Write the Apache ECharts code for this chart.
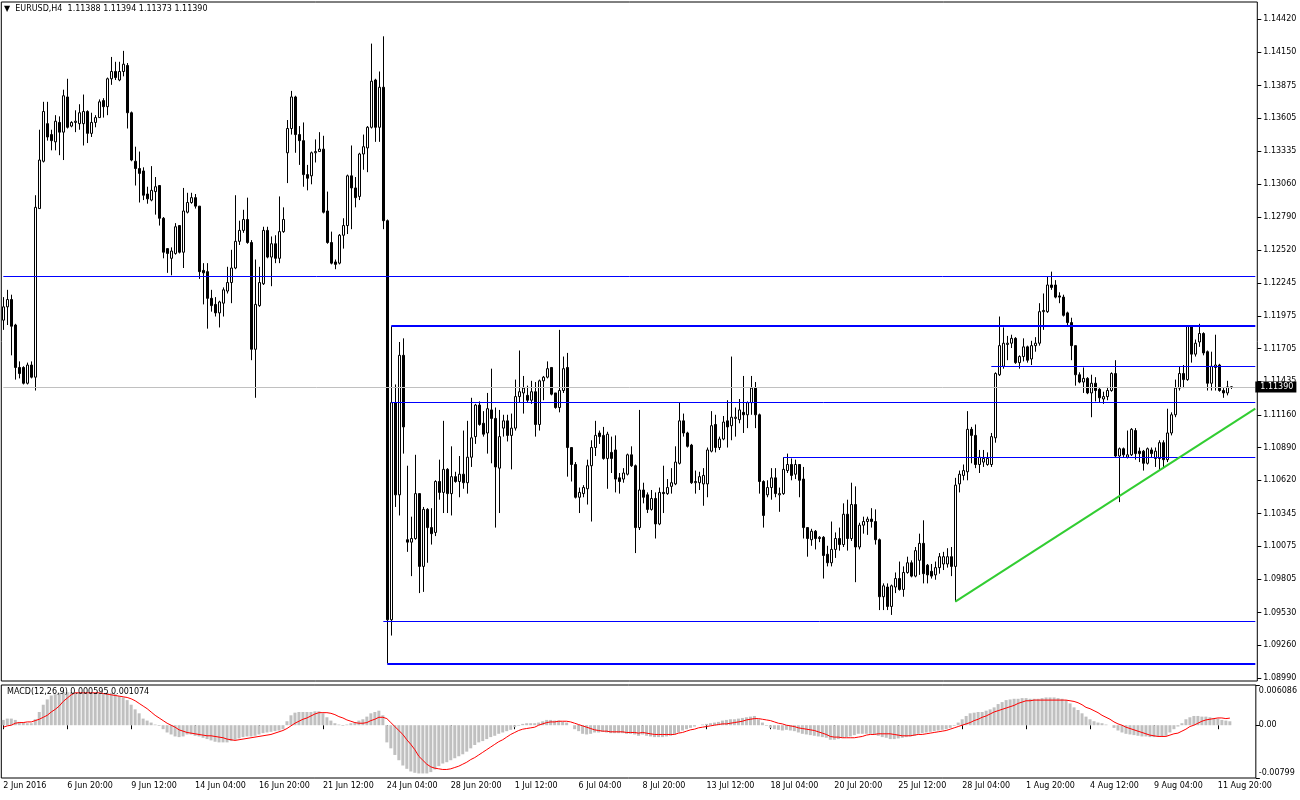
<!DOCTYPE html>
<html><head><meta charset="utf-8">
<script src="https://cdn.jsdelivr.net/npm/echarts@6/dist/echarts.min.js"></script>
<style>html,body{margin:0;padding:0;background:#fff}#c{width:1300px;height:800px}</style>
</head><body><div id="c"></div>
<script>
// ---- data ----
const open = [
1.1194,1.1205,1.1211,1.1190,1.1155,1.1155,1.1142,1.1157,1.1147,1.1286,
1.1325,1.1356,1.1347,1.1341,1.1357,1.1349,1.1378,1.1354,1.1357,1.1356,
1.1356,1.1366,1.1348,1.1357,1.1361,1.1375,1.1370,1.1393,1.1399,1.1392,
1.1399,1.1404,1.1365,1.1325,1.1319,1.1317,1.1298,1.1293,1.1300,1.1305,
1.1278,1.1253,1.1245,1.1249,1.1272,1.1250,1.1283,1.1291,1.1295,1.1288,
1.1235,1.1234,1.1212,1.1207,1.1200,1.1208,1.1218,1.1225,1.1237,1.1259,
1.1268,1.1277,1.1258,1.1170,1.1206,1.1224,1.1268,1.1246,1.1257,1.1245,
1.1267,1.1332,1.1352,1.1378,1.1347,1.1342,1.1314,1.1313,1.1332,1.1333,
1.1335,1.1284,1.1258,1.1242,1.1241,1.1264,1.1272,1.1313,1.1303,1.1296,
1.1331,1.1336,1.1353,1.1392,1.1353,1.1386,1.1276,1.0947,1.1126,1.1050,
1.1165,1.1013,1.1011,1.1014,1.1051,1.0991,1.1038,1.1023,1.1019,1.1061,
1.1052,1.1071,1.1051,1.1065,1.1061,1.1067,1.1060,1.1081,1.1098,1.1124,
1.1109,1.1101,1.1120,1.1113,1.1072,1.1105,1.1111,1.1099,1.1105,1.1131,
1.1134,1.1132,1.1128,1.1135,1.1108,1.1144,1.1147,1.1155,1.1134,1.1122,
1.1136,1.1155,1.1089,1.1075,1.1048,1.1051,1.1055,1.1074,1.1089,1.1101,
1.1099,1.1080,1.1085,1.1087,1.1064,1.1063,1.1067,1.1083,1.1074,1.1023,
1.1054,1.1050,1.1038,1.1047,1.1026,1.1052,1.1051,1.1057,1.1059,1.1076,
1.1111,1.1101,1.1091,1.1060,1.1060,1.1059,1.1059,1.1086,1.1108,1.1089,
1.1096,1.1111,1.1107,1.1113,1.1112,1.1118,1.1116,1.1126,1.1138,1.1116,
1.1061,1.1050,1.1056,1.1064,1.1050,1.1051,1.1070,1.1075,1.1067,1.1075,
1.1063,1.1023,1.1013,1.1020,1.1014,1.1015,1.1001,1.0994,1.1005,1.1014,
1.1009,1.1034,1.1014,1.1042,1.1007,1.1025,1.1028,1.1030,1.1028,1.1013,
1.0966,1.0974,1.0958,1.0974,1.0981,1.0972,1.0986,1.0994,1.0983,1.0996,
1.1010,1.0992,1.0987,1.0984,1.0990,1.0993,1.0993,1.0999,1.0991,1.1059,
1.1066,1.1069,1.1104,1.1099,1.1075,1.1077,1.1075,1.1075,1.1097,1.1149,
1.1156,1.1174,1.1175,1.1179,1.1159,1.1164,1.1172,1.1162,1.1173,1.1175,
1.1201,1.1201,1.1223,1.1223,1.1214,1.1213,1.1200,1.1192,1.1173,1.1149,
1.1143,1.1146,1.1134,1.1142,1.1137,1.1129,1.1131,1.1136,1.1150,1.1082,
1.1088,1.1081,1.1083,1.1103,1.1086,1.1086,1.1076,1.1087,1.1080,1.1080,
1.1093,1.1079,1.1101,1.1116,1.1138,1.1150,1.1145,1.1189,1.1166,1.1176,
1.1183,1.1168,1.1142,1.1155,1.1157,1.1136,1.1134,1.11388];
const high = [
1.1213,1.1219,1.1215,1.1191,1.1160,1.1156,1.1159,1.1160,1.1297,1.1351,
1.1374,1.1374,1.1351,1.1363,1.1362,1.1384,1.1393,1.1358,1.1367,1.1372,
1.1380,1.1367,1.1365,1.1363,1.1376,1.1377,1.1394,1.1411,1.1407,1.1407,
1.1416,1.1406,1.1366,1.1337,1.1333,1.1320,1.1304,1.1321,1.1312,1.1305,
1.1279,1.1253,1.1254,1.1274,1.1272,1.1303,1.1299,1.1299,1.1298,1.1288,
1.1241,1.1241,1.1219,1.1213,1.1210,1.1221,1.1238,1.1252,1.1297,1.1276,
1.1285,1.1295,1.1260,1.1244,1.1238,1.1271,1.1271,1.1263,1.1264,1.1296,
1.1287,1.1359,1.1383,1.1379,1.1354,1.1357,1.1322,1.1333,1.1343,1.1349,
1.1346,1.1300,1.1267,1.1244,1.1265,1.1278,1.1314,1.1338,1.1312,1.1332,
1.1347,1.1354,1.1422,1.1393,1.1399,1.1428,1.1277,1.1189,1.1141,1.1176,
1.1179,1.1074,1.1032,1.1083,1.1051,1.1040,1.1039,1.1039,1.1062,1.1079,
1.1111,1.1072,1.1090,1.1069,1.1082,1.1103,1.1111,1.1130,1.1125,1.1127,
1.1119,1.1134,1.1154,1.1122,1.1120,1.1116,1.1116,1.1117,1.1145,1.1169,
1.1148,1.1140,1.1144,1.1143,1.1145,1.1148,1.1160,1.1155,1.1134,1.1186,
1.1164,1.1167,1.1089,1.1077,1.1056,1.1058,1.1079,1.1095,1.1111,1.1103,
1.1106,1.1102,1.1098,1.1099,1.1068,1.1072,1.1084,1.1090,1.1075,1.1120,
1.1060,1.1052,1.1054,1.1052,1.1056,1.1074,1.1063,1.1072,1.1090,1.1126,
1.1117,1.1102,1.1092,1.1070,1.1069,1.1072,1.1089,1.1119,1.1116,1.1098,
1.1115,1.1128,1.1164,1.1122,1.1129,1.1148,1.1127,1.1148,1.1143,1.1117,
1.1062,1.1062,1.1072,1.1072,1.1056,1.1081,1.1084,1.1080,1.1079,1.1075,
1.1073,1.1023,1.1022,1.1021,1.1016,1.1016,1.1008,1.1028,1.1019,1.1023,
1.1043,1.1046,1.1060,1.1057,1.1027,1.1032,1.1032,1.1039,1.1038,1.1014,
1.0977,1.0977,1.0976,1.0986,1.0995,1.0991,1.0999,1.0996,1.1007,1.1018,
1.1029,1.0993,1.0993,1.0995,1.1002,1.1003,1.1006,1.1007,1.1064,1.1070,
1.1075,1.1119,1.1106,1.1108,1.1087,1.1087,1.1085,1.1101,1.1151,1.1197,
1.1188,1.1181,1.1182,1.1180,1.1165,1.1179,1.1173,1.1177,1.1180,1.1208,
1.1216,1.1230,1.1234,1.1227,1.1217,1.1215,1.1201,1.1196,1.1173,1.1151,
1.1155,1.1147,1.1149,1.1147,1.1138,1.1135,1.1139,1.1151,1.1161,1.1089,
1.1089,1.1103,1.1105,1.1105,1.1089,1.1087,1.1089,1.1089,1.1089,1.1095,
1.1095,1.1121,1.1118,1.1145,1.1156,1.1157,1.1190,1.1190,1.1178,1.1191,
1.1184,1.1169,1.1168,1.1182,1.1158,1.1138,1.1144,1.11394];
const low = [
1.1186,1.1190,1.1165,1.1145,1.1146,1.1141,1.1141,1.1146,1.1136,1.1286,
1.1324,1.1342,1.1334,1.1334,1.1330,1.1326,1.1352,1.1353,1.1349,1.1351,
1.1338,1.1340,1.1345,1.1353,1.1361,1.1361,1.1363,1.1388,1.1392,1.1391,
1.1395,1.1352,1.1325,1.1305,1.1291,1.1293,1.1290,1.1292,1.1281,1.1272,
1.1245,1.1233,1.1231,1.1248,1.1249,1.1237,1.1282,1.1290,1.1286,1.1228,
1.1207,1.1187,1.1201,1.1197,1.1188,1.1197,1.1216,1.1208,1.1236,1.1256,
1.1266,1.1257,1.1161,1.1130,1.1205,1.1223,1.1245,1.1222,1.1241,1.1241,
1.1266,1.1307,1.1347,1.1332,1.1322,1.1304,1.1301,1.1306,1.1324,1.1333,
1.1282,1.1257,1.1240,1.1236,1.1240,1.1253,1.1265,1.1269,1.1287,1.1293,
1.1318,1.1316,1.1352,1.1341,1.1341,1.1269,1.0911,1.0934,1.1040,1.1033,
1.1084,1.1003,1.0983,1.1013,1.0969,1.0970,1.0994,1.1009,1.1016,1.1046,
1.1035,1.1035,1.1033,1.1060,1.1048,1.1055,1.1051,1.1073,1.1092,1.1107,
1.1098,1.1084,1.1076,1.1023,1.1035,1.1098,1.1094,1.1071,1.1103,1.1126,
1.1117,1.1126,1.1125,1.1098,1.1103,1.1128,1.1146,1.1132,1.1121,1.1118,
1.1134,1.1065,1.1061,1.1047,1.1035,1.1048,1.1042,1.1028,1.1082,1.1092,
1.1079,1.1055,1.1068,1.1052,1.1051,1.1060,1.1066,1.1073,1.1002,1.1021,
1.1043,1.1035,1.1037,1.1014,1.1025,1.1035,1.1050,1.1051,1.1058,1.1075,
1.1098,1.1089,1.1059,1.1051,1.1054,1.1041,1.1048,1.1085,1.1085,1.1087,
1.1095,1.1089,1.1095,1.1098,1.1109,1.1101,1.1105,1.1116,1.1105,1.1051,
1.1023,1.1048,1.1046,1.1048,1.1036,1.1050,1.1068,1.1062,1.1063,1.1048,
1.1014,1.0999,1.1008,1.1005,1.1011,1.0981,1.0991,1.0991,1.0998,1.1004,
1.1007,1.1004,1.1012,1.0978,1.1005,1.1018,1.1017,1.1023,1.1009,1.0955,
1.0955,1.0955,1.0951,1.0969,1.0971,1.0966,1.0985,1.0982,1.0982,1.0984,
1.0977,1.0977,1.0981,1.0980,1.0985,1.0988,1.0990,1.0983,1.0962,1.1052,
1.1062,1.1062,1.1076,1.1072,1.1068,1.1073,1.1074,1.1073,1.1093,1.1148,
1.1154,1.1161,1.1171,1.1158,1.1154,1.1160,1.1159,1.1157,1.1168,1.1173,
1.1186,1.1200,1.1219,1.1212,1.1208,1.1197,1.1190,1.1161,1.1140,1.1142,
1.1134,1.1133,1.1114,1.1127,1.1126,1.1125,1.1128,1.1135,1.1081,1.1044,
1.1081,1.1080,1.1082,1.1079,1.1077,1.1070,1.1075,1.1081,1.1073,1.1070,
1.1072,1.1077,1.1099,1.1114,1.1136,1.1138,1.1144,1.1159,1.1164,1.1172,
1.1165,1.1136,1.1136,1.1136,1.1135,1.1130,1.1132,1.11373];
const close = [
1.1205,1.1211,1.1189,1.1155,1.1150,1.1142,1.1157,1.1147,1.1287,1.1326,
1.1366,1.1345,1.1342,1.1358,1.1349,1.1379,1.1353,1.1357,1.1358,1.1365,
1.1366,1.1348,1.1357,1.1361,1.1374,1.1370,1.1393,1.1399,1.1394,1.1399,
1.1405,1.1365,1.1326,1.1319,1.1315,1.1297,1.1294,1.1301,1.1304,1.1278,
1.1250,1.1249,1.1251,1.1271,1.1250,1.1284,1.1291,1.1295,1.1288,1.1234,
1.1233,1.1212,1.1206,1.1200,1.1209,1.1219,1.1225,1.1237,1.1259,1.1268,
1.1277,1.1258,1.1170,1.1207,1.1225,1.1268,1.1246,1.1257,1.1245,1.1267,
1.1277,1.1352,1.1378,1.1347,1.1342,1.1314,1.1311,1.1332,1.1333,1.1335,
1.1283,1.1258,1.1241,1.1240,1.1264,1.1272,1.1313,1.1303,1.1295,1.1331,
1.1337,1.1353,1.1391,1.1353,1.1386,1.1276,1.0947,1.1126,1.1050,1.1165,
1.1106,1.1011,1.1014,1.1051,1.0991,1.1038,1.1023,1.1018,1.1061,1.1052,
1.1071,1.1051,1.1065,1.1061,1.1067,1.1060,1.1081,1.1097,1.1124,1.1108,
1.1100,1.1121,1.1113,1.1073,1.1098,1.1111,1.1099,1.1105,1.1131,1.1135,
1.1138,1.1128,1.1135,1.1108,1.1144,1.1147,1.1154,1.1133,1.1122,1.1136,
1.1154,1.1089,1.1075,1.1048,1.1052,1.1056,1.1074,1.1089,1.1099,1.1098,
1.1080,1.1100,1.1080,1.1063,1.1061,1.1068,1.1083,1.1074,1.1023,1.1054,
1.1048,1.1038,1.1047,1.1026,1.1052,1.1051,1.1056,1.1060,1.1077,1.1111,
1.1101,1.1090,1.1060,1.1061,1.1065,1.1066,1.1087,1.1107,1.1089,1.1096,
1.1110,1.1106,1.1114,1.1114,1.1120,1.1116,1.1126,1.1138,1.1116,1.1061,
1.1033,1.1056,1.1064,1.1051,1.1051,1.1071,1.1075,1.1066,1.1075,1.1062,
1.1023,1.1014,1.1020,1.1014,1.1015,1.1000,1.0994,1.1005,1.1014,1.1009,
1.1034,1.1014,1.1042,1.1007,1.1025,1.1028,1.1030,1.1028,1.1013,1.0966,
1.0975,1.0958,1.0975,1.0981,1.0972,1.0986,1.0994,1.0983,1.1004,1.1010,
1.0985,1.0984,1.0983,1.0990,1.0999,1.0999,1.0999,1.0991,1.1058,1.1067,
1.1070,1.1104,1.1099,1.1075,1.1081,1.1080,1.1080,1.1098,1.1150,1.1173,
1.1175,1.1175,1.1179,1.1159,1.1164,1.1172,1.1161,1.1173,1.1175,1.1201,
1.1202,1.1223,1.1221,1.1213,1.1213,1.1198,1.1192,1.1173,1.1149,1.1143,
1.1146,1.1134,1.1142,1.1136,1.1130,1.1131,1.1136,1.1150,1.1082,1.1088,
1.1083,1.1083,1.1104,1.1084,1.1084,1.1076,1.1088,1.1084,1.1086,1.1093,
1.1079,1.1101,1.1116,1.1138,1.1150,1.1145,1.1189,1.1166,1.1175,1.1183,
1.1167,1.1142,1.1156,1.1157,1.1136,1.1134,1.1139,1.11390];
const macdMain = [
0.0008,0.0010,0.0010,0.0008,0.0005,0.0004,0.0003,0.0003,0.0009,0.0020,
0.0031,0.0039,0.0045,0.0047,0.0049,0.0050,0.0050,0.0050,0.0050,0.0049,
0.0049,0.0048,0.0049,0.0049,0.0048,0.0048,0.0049,0.0049,0.0047,0.0044,
0.0042,0.0038,0.0031,0.0024,0.0018,0.0010,0.0007,0.0004,0.0001,-0.0001,
-0.0006,-0.0011,-0.0014,-0.0017,-0.0018,-0.0017,-0.0014,-0.0014,-0.0016,-0.0017,
-0.0019,-0.0021,-0.0023,-0.0025,-0.0026,-0.0026,-0.0026,-0.0024,-0.0022,-0.0020,
-0.0018,-0.0017,-0.0017,-0.0016,-0.0014,-0.0012,-0.0011,-0.0010,-0.0009,-0.0008,
-0.0006,0.0006,0.0015,0.0019,0.0020,0.0020,0.0020,0.0020,0.0021,0.0021,
0.0018,0.0012,0.0007,0.0003,0.0001,-0.0001,0.0001,0.0003,0.0004,0.0007,
0.0009,0.0013,0.0018,0.0020,0.0022,0.0015,-0.0026,-0.0035,-0.0045,-0.0053,
-0.0061,-0.0066,-0.0070,-0.0072,-0.0073,-0.0073,-0.0073,-0.0071,-0.0067,-0.0062,
-0.0058,-0.0056,-0.0053,-0.0050,-0.0047,-0.0044,-0.0040,-0.0035,-0.0030,-0.0026,
-0.0024,-0.0021,-0.0018,-0.0016,-0.0013,-0.0011,-0.0009,-0.0007,-0.0003,-0.0001,
0.0002,0.0003,0.0003,0.0003,0.0004,0.0006,0.0008,0.0008,0.0007,0.0007,
0.0005,0.0004,0.0000,-0.0006,-0.0009,-0.0013,-0.0014,-0.0013,-0.0011,-0.0011,
-0.0010,-0.0011,-0.0012,-0.0012,-0.0012,-0.0012,-0.0013,-0.0013,-0.0014,-0.0016,
-0.0014,-0.0016,-0.0017,-0.0018,-0.0018,-0.0018,-0.0017,-0.0016,-0.0014,-0.0011,
-0.0008,-0.0006,-0.0004,-0.0002,0.0000,0.0001,0.0002,0.0003,0.0004,0.0005,
0.0007,0.0008,0.0009,0.0009,0.0010,0.0011,0.0012,0.0013,0.0014,0.0009,
0.0004,-0.0001,-0.0004,-0.0006,-0.0007,-0.0008,-0.0007,-0.0008,-0.0009,-0.0011,
-0.0013,-0.0014,-0.0015,-0.0016,-0.0017,-0.0018,-0.0019,-0.0022,-0.0022,-0.0021,
-0.0019,-0.0018,-0.0017,-0.0015,-0.0013,-0.0013,-0.0013,-0.0013,-0.0014,-0.0016,
-0.0018,-0.0019,-0.0021,-0.0021,-0.0020,-0.0019,-0.0018,-0.0017,-0.0016,-0.0013,
-0.0012,-0.0011,-0.0010,-0.0009,-0.0008,-0.0007,-0.0006,-0.0004,-0.0001,0.0004,
0.0009,0.0014,0.0018,0.0019,0.0020,0.0020,0.0022,0.0024,0.0027,0.0032,
0.0035,0.0038,0.0039,0.0040,0.0040,0.0041,0.0041,0.0040,0.0040,0.0040,
0.0041,0.0042,0.0042,0.0042,0.0041,0.0040,0.0038,0.0033,0.0027,0.0023,
0.0018,0.0013,0.0009,0.0006,0.0004,0.0003,0.0001,0.0000,-0.0004,-0.0008,
-0.0011,-0.0013,-0.0014,-0.0015,-0.0016,-0.0017,-0.0017,-0.0018,-0.0018,-0.0017,
-0.0017,-0.0016,-0.0011,-0.0006,-0.0002,0.0003,0.0009,0.0012,0.0014,0.0014,
0.0013,0.0013,0.0012,0.0011,0.0010,0.0008,0.0007,0.000595];
const macdSignal = [
-0.0003,-0.0001,0.0000,0.0003,0.0004,0.0004,0.0005,0.0005,0.0007,0.0009,
0.0012,0.0015,0.0020,0.0024,0.0029,0.0036,0.0041,0.0046,0.0049,0.0049,
0.0049,0.0049,0.0049,0.0049,0.0049,0.0048,0.0047,0.0046,0.0045,0.0044,
0.0043,0.0042,0.0040,0.0037,0.0033,0.0029,0.0025,0.0020,0.0015,0.0011,
0.0007,0.0003,0.0000,-0.0003,-0.0007,-0.0009,-0.0011,-0.0012,-0.0013,-0.0014,
-0.0015,-0.0016,-0.0016,-0.0017,-0.0018,-0.0019,-0.0021,-0.0022,-0.0023,-0.0022,
-0.0021,-0.0020,-0.0019,-0.0018,-0.0017,-0.0016,-0.0015,-0.0014,-0.0012,-0.0010,
-0.0008,-0.0005,-0.0001,0.0003,0.0006,0.0009,0.0011,0.0014,0.0017,0.0019,
0.0019,0.0019,0.0018,0.0016,0.0013,0.0011,0.0008,0.0006,0.0004,0.0003,
0.0003,0.0004,0.0007,0.0009,0.0012,0.0012,0.0010,0.0004,-0.0002,-0.0008,
-0.0014,-0.0022,-0.0029,-0.0037,-0.0047,-0.0053,-0.0059,-0.0063,-0.0065,-0.0066,
-0.0067,-0.0067,-0.0066,-0.0064,-0.0062,-0.0059,-0.0056,-0.0052,-0.0049,-0.0045,
-0.0041,-0.0037,-0.0033,-0.0029,-0.0025,-0.0022,-0.0018,-0.0014,-0.0011,-0.0008,
-0.0006,-0.0005,-0.0004,-0.0003,0.0000,0.0002,0.0004,0.0005,0.0005,0.0006,
0.0006,0.0006,0.0005,0.0003,0.0001,-0.0001,-0.0003,-0.0005,-0.0007,-0.0008,
-0.0009,-0.0009,-0.0010,-0.0010,-0.0010,-0.0010,-0.0011,-0.0011,-0.0011,-0.0012,
-0.0011,-0.0012,-0.0013,-0.0014,-0.0014,-0.0014,-0.0014,-0.0014,-0.0014,-0.0012,
-0.0011,-0.0009,-0.0007,-0.0006,-0.0004,-0.0003,-0.0002,-0.0001,0.0000,0.0001,
0.0002,0.0002,0.0003,0.0004,0.0005,0.0006,0.0008,0.0009,0.0010,0.0010,
0.0009,0.0008,0.0007,0.0005,0.0003,0.0002,0.0000,-0.0001,-0.0002,-0.0004,
-0.0005,-0.0006,-0.0007,-0.0008,-0.0010,-0.0012,-0.0014,-0.0017,-0.0018,-0.0018,
-0.0019,-0.0019,-0.0019,-0.0019,-0.0018,-0.0017,-0.0015,-0.0014,-0.0014,-0.0013,
-0.0013,-0.0013,-0.0013,-0.0014,-0.0015,-0.0016,-0.0016,-0.0016,-0.0015,-0.0014,
-0.0014,-0.0013,-0.0012,-0.0011,-0.0010,-0.0009,-0.0008,-0.0006,-0.0004,-0.0002,
0.0000,0.0002,0.0004,0.0007,0.0009,0.0012,0.0014,0.0017,0.0020,0.0022,
0.0024,0.0026,0.0028,0.0030,0.0033,0.0035,0.0037,0.0037,0.0038,0.0038,
0.0038,0.0038,0.0038,0.0038,0.0038,0.0038,0.0038,0.0037,0.0036,0.0034,
0.0031,0.0027,0.0025,0.0022,0.0019,0.0015,0.0012,0.0009,0.0005,0.0002,
0.0000,-0.0003,-0.0005,-0.0007,-0.0009,-0.0011,-0.0013,-0.0015,-0.0016,-0.0017,
-0.0017,-0.0017,-0.0015,-0.0013,-0.0012,-0.0009,-0.0006,-0.0002,0.0000,0.0003,
0.0006,0.0008,0.0009,0.0010,0.0011,0.0011,0.0010,0.001074];
const priceTickLabels = ['1.08990','1.09260','1.09530','1.09805','1.10075','1.10345','1.10620','1.10890','1.11160','1.11435','1.11705','1.11975','1.12245','1.12520','1.12790','1.13060','1.13335','1.13605','1.13875','1.14150','1.14420'];
const timeTickLabels = ['2 Jun 2016','6 Jun 20:00','9 Jun 12:00','14 Jun 04:00','16 Jun 20:00','21 Jun 12:00','24 Jun 04:00','28 Jun 20:00','1 Jul 12:00','6 Jul 04:00','8 Jul 20:00','13 Jul 12:00','18 Jul 04:00','20 Jul 20:00','25 Jul 12:00','28 Jul 04:00','1 Aug 20:00','4 Aug 12:00','9 Aug 04:00','11 Aug 20:00'];
const macdTickLabels = ['-0.00799','0.00','0.006086'];
const headerText = 'EURUSD,H4  1.11388 1.11394 1.11373 1.11390';
const macdText = 'MACD(12,26,9) 0.000595 0.001074';
const lastPrice = 1.11390;
const fullLevel = 1.12304;
const levelPrices = [1.11892, 1.11265, 1.11562, 1.10812, 1.09460, 1.09105];
const levelStartBars = [97, 97, 247, 195, 95, 96];
const trendStart = [238, 1.0962];
const trendEnd = [313, 1.1121];

// ---- H4 bar times (weekdays only) incl. empty right margin ----
const barTimes = [];
(function () {
  const mon = ['Jan','Feb','Mar','Apr','May','Jun','Jul','Aug','Sep','Oct','Nov','Dec'];
  let t = Date.UTC(2016, 5, 2, 4);
  while (barTimes.length < 314) {
    const d = new Date(t);
    const wd = d.getUTCDay();
    if (wd !== 0 && wd !== 6) {
      barTimes.push(d.getUTCDate() + ' ' + mon[d.getUTCMonth()] + ' ' + String(d.getUTCHours()).padStart(2, '0') + ':00');
    }
    t += 4 * 3600e3;
  }
})();

const candles = open.map((o, i) => [o, close[i], low[i], high[i]]);
const priceTicks = priceTickLabels.map(parseFloat);
const macdTicks = macdTickLabels.map(parseFloat);

const FONT = 'DejaVu Sans';
const firstCat = barTimes[0];
const lastCat = barTimes[barTimes.length - 1];
const thick = [true, false, false, false, false, true];
const mlData = [
  [ { coord: [firstCat, fullLevel], lineStyle: { color: '#0000ff', width: 1, type: 'solid' } },
    { coord: [lastCat, fullLevel] } ],
  [ { coord: [firstCat, lastPrice], lineStyle: { color: '#c0c0c0', width: 1, type: 'solid' },
      label: { show: true, position: 'end', distance: 0, formatter: lastPrice.toFixed(5),
        backgroundColor: '#000', color: '#fff', padding: [2, 3, 1, 5], fontSize: 8, fontFamily: FONT } },
    { coord: [lastCat, lastPrice] } ]
];
levelPrices.forEach((p, k) => {
  mlData.push([
    { coord: [barTimes[levelStartBars[k]], p], lineStyle: { color: '#0000ff', width: thick[k] ? 2 : 1, type: 'solid' } },
    { coord: [lastCat, p] }
  ]);
});
mlData.push([
  { coord: [barTimes[trendStart[0]], trendStart[1]], lineStyle: { color: '#32cd32', width: 2, type: 'solid' } },
  { coord: [barTimes[trendEnd[0]], trendEnd[1]] }
]);

const chart = echarts.init(document.getElementById('c'), null, { renderer: 'canvas' });
chart.setOption({
  animation: false,
  backgroundColor: '#fff',
  textStyle: { fontFamily: FONT },
  title: [
    { text: '\u25BC  ' + headerText, left: 4, top: 5, padding: 0,
      textStyle: { fontSize: 8, fontWeight: 'normal', color: '#000', fontFamily: FONT } },
    { text: macdText, left: 7, top: 688, padding: 0,
      textStyle: { fontSize: 8, fontWeight: 'normal', color: '#000', fontFamily: FONT } }
  ],
  grid: [
    { left: 1.3, top: 2, width: 1256, height: 679, show: true, borderColor: '#000', borderWidth: 1, backgroundColor: 'transparent' },
    { left: 1.3, top: 685, width: 1256, height: 93, show: true, borderColor: '#000', borderWidth: 1, backgroundColor: 'transparent' }
  ],
  xAxis: [
    { type: 'category', gridIndex: 0, data: barTimes, boundaryGap: true, show: false },
    { type: 'category', gridIndex: 1, data: barTimes, boundaryGap: true,
      axisLine: { show: false },
      axisTick: { show: true, interval: 15, alignWithLabel: true, length: 4, lineStyle: { color: '#000' } },
      axisLabel: { interval: 15, align: 'left', margin: 4, fontSize: 8, color: '#000', fontFamily: FONT,
        formatter: (v, i) => timeTickLabels[i / 16] || '' },
      splitLine: { show: false } }
  ],
  yAxis: [
    { type: 'value', gridIndex: 0, position: 'right', min: 1.089653, max: 1.145629,
      splitLine: { show: false }, axisLine: { show: false },
      axisTick: { show: true, length: 4, lineStyle: { color: '#000' }, customValues: priceTicks },
      axisLabel: { customValues: priceTicks, margin: 6, fontSize: 8, color: '#000', fontFamily: FONT,
        formatter: v => { const s = priceTickLabels.find(x => Math.abs(parseFloat(x) - v) < 1e-7); return s || ''; } } },
    { type: 'value', gridIndex: 1, position: 'right', min: macdTicks[0], max: macdTicks[2],
      splitLine: { show: false }, axisLine: { show: false },
      axisTick: { show: true, length: 4, lineStyle: { color: '#000' }, customValues: macdTicks },
      axisLabel: { customValues: macdTicks, margin: 3, fontSize: 8, color: '#000', fontFamily: FONT,
        formatter: v => {
          if (Math.abs(v - macdTicks[2]) < 1e-9) return '{t|' + macdTickLabels[2] + '}';
          if (Math.abs(v - macdTicks[0]) < 1e-9) return '{b|' + macdTickLabels[0] + '}';
          if (Math.abs(v) < 1e-9) return macdTickLabels[1];
          return '';
        },
        rich: { t: { padding: [11, 0, 0, 0], fontSize: 8, color: '#000', fontFamily: FONT },
                b: { padding: [0, 0, 11, 0], fontSize: 8, color: '#000', fontFamily: FONT } } } }
  ],
  series: [
    { type: 'candlestick', xAxisIndex: 0, yAxisIndex: 0, data: candles, barWidth: 3, silent: true,
      itemStyle: { color: '#ffffff', color0: '#000000', borderColor: '#000000', borderColor0: '#000000', borderWidth: 1 },
      markLine: { silent: true, symbol: ['none', 'none'], animation: false, label: { show: false },
        emphasis: { disabled: true }, data: mlData } },
    { type: 'bar', xAxisIndex: 1, yAxisIndex: 1, data: macdMain, barWidth: 3, silent: true,
      itemStyle: { color: '#c0c0c0' } },
    { type: 'line', xAxisIndex: 1, yAxisIndex: 1, data: macdSignal, symbol: 'none', showSymbol: false, silent: true,
      lineStyle: { color: '#ff0000', width: 1 } }
  ]
});
</script>
</body></html>
